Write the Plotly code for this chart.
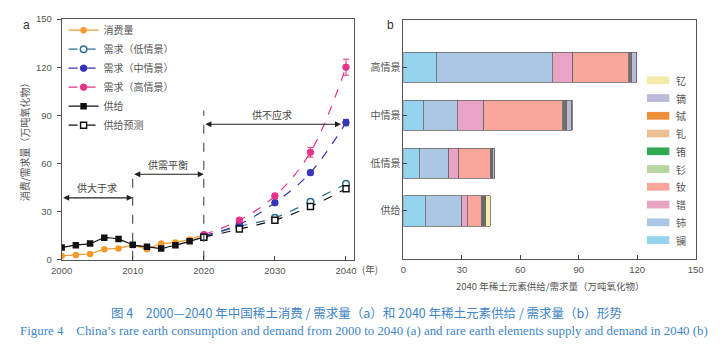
import plotly.graph_objects as go

# ---------------- Panel a data ----------------
hist_years = [2000, 2002, 2004, 2006, 2008, 2010, 2012, 2014, 2016, 2018, 2020]
consumption = [2.4, 3.0, 3.6, 6.6, 7.1, 9.1, 6.6, 10.1, 10.7, 12.7, 15.5]
supply = [7.7, 9.1, 10.1, 13.7, 12.9, 9.3, 8.1, 7.1, 9.1, 11.5, 14.1]

fc_years = [2020, 2025, 2030, 2035, 2040]
demand_low = [14.5, 20.8, 26.2, 36.2, 47.3]
demand_mid = [15.0, 22.1, 35.6, 54.3, 85.5]
demand_high = [15.7, 24.7, 39.8, 67.0, 120.0]
supply_fc = [14.1, 19.1, 24.7, 33.2, 44.3]
err_low = [0, 0.5, 1.0, 1.2, 1.5]
err_mid = [0, 0.8, 1.5, 1.5, 2.0]
err_high = [0, 1.0, 1.5, 3.0, 5.0]

period_start = [2000, 2010, 2020]
period_end = [2010, 2020, 2039.3]
period_level = [38.6, 53.3, 84.5]
period_label = ["供大于求", "供需平衡", "供不应求"]
divider_years = [2010, 2020]
divider_top = [53.3, 93]

# ---------------- Panel b data ----------------
categories = ["供给", "低情景", "中情景", "高情景"]
elements = ["镧", "铈", "镨", "钕", "钐", "铕", "钆", "铽", "镝", "钇"]
element_values = {
    "镧": [11.3, 8.2, 10.2, 16.8],
    "铈": [18.5, 15.0, 17.5, 59.5],
    "镨": [2.9, 5.3, 13.6, 10.5],
    "钕": [7.5, 16.2, 40.2, 28.7],
    "钐": [0.6, 0.4, 0.7, 0.6],
    "铕": [0.5, 0.2, 0.3, 0.2],
    "钆": [0.5, 0.4, 0.8, 0.6],
    "铽": [0.2, 0.2, 0.4, 0.3],
    "镝": [0.3, 0.8, 2.6, 2.3],
    "钇": [2.2, 0.1, 0.3, 0.2],
}
element_colors = {
    "镧": "#96d3ef", "铈": "#abc7e3", "镨": "#e8a3c5", "钕": "#fba69c",
    "钐": "#b5d6a0", "铕": "#33a853", "钆": "#ebc193", "铽": "#f08d38",
    "镝": "#bcbadb", "钇": "#f5eba9",
}

W, H = 728, 350
def px(x):
    return x / W
def py(y):
    return 1 - y / H

FONT = "Liberation Sans, Noto Sans CJK SC, sans-serif"
CJK = "Noto Sans CJK SC, sans-serif"
TXT = "#555555"

fig = go.Figure()

# ---- panel a traces ----
fig.add_trace(go.Scatter(x=hist_years, y=consumption, name="消费量", mode="lines+markers",
                         line=dict(color="#f39a2c", width=1.2),
                         marker=dict(symbol="circle", size=6.5, color="#f39a2c"),
                         xaxis="x", yaxis="y", legend="legend"))
fig.add_trace(go.Scatter(x=fc_years, y=demand_low, name="需求（低情景）", mode="lines+markers",
                         line=dict(color="#2c7090", width=1.2, dash="dash", shape="spline"),
                         marker=dict(symbol="circle", size=6.5, color="white",
                                     line=dict(color="#2c7090", width=1.5)),
                         error_y=dict(type="data", array=err_low, color="#2c7090", width=3, thickness=1),
                         xaxis="x", yaxis="y", legend="legend"))
fig.add_trace(go.Scatter(x=fc_years, y=demand_mid, name="需求（中情景）", mode="lines+markers",
                         line=dict(color="#3535b5", width=1.2, dash="dash", shape="spline"),
                         marker=dict(symbol="circle", size=6.5, color="#3535b5",
                                     line=dict(color="#3535b5", width=1)),
                         error_y=dict(type="data", array=err_mid, color="#3535b5", width=3, thickness=1),
                         xaxis="x", yaxis="y", legend="legend"))
fig.add_trace(go.Scatter(x=fc_years, y=demand_high, name="需求（高情景）", mode="lines+markers",
                         line=dict(color="#e6338a", width=1.2, dash="dash", shape="spline"),
                         marker=dict(symbol="circle", size=6.5, color="#e6338a",
                                     line=dict(color="#e6338a", width=1)),
                         error_y=dict(type="data", array=err_high, color="#e6338a", width=3, thickness=1),
                         xaxis="x", yaxis="y", legend="legend"))
fig.add_trace(go.Scatter(x=hist_years, y=supply, name="供给", mode="lines+markers",
                         line=dict(color="#111111", width=1.2, shape="spline", smoothing=0.6),
                         marker=dict(symbol="square", size=6.5, color="#111111"),
                         xaxis="x", yaxis="y", legend="legend"))
fig.add_trace(go.Scatter(x=fc_years, y=supply_fc, name="供给预测", mode="lines+markers",
                         line=dict(color="#111111", width=1.2, dash="dash", shape="spline"),
                         marker=dict(symbol="square", size=6, color="white",
                                     line=dict(color="#111111", width=1.5)),
                         xaxis="x", yaxis="y", legend="legend"))

# ---- panel b traces ----
for el in elements:
    fig.add_trace(go.Bar(y=categories, x=element_values[el], name=el, orientation="h",
                         marker=dict(color=element_colors[el], line=dict(color="#666666", width=0.8)),
                         xaxis="x2", yaxis="y2", showlegend=False))

annotations = []
shapes = []

# dividers and period arrows
for yr, top in zip(divider_years, divider_top):
    shapes.append(dict(type="line", xref="x", yref="y", x0=yr, x1=yr, y0=0, y1=top,
                       line=dict(color="#333333", width=1, dash="dash")))
for s, e, lv, lb in zip(period_start, period_end, period_level, period_label):
    annotations.append(dict(xref="x", yref="y", axref="x", ayref="y", x=e, y=lv, ax=s, ay=lv,
                            text="", showarrow=True, arrowhead=2, startarrowhead=2,
                            arrowside="end+start", arrowsize=1.1, arrowwidth=1.1,
                            arrowcolor="#222222"))
    annotations.append(dict(xref="x", yref="y", x=(s + e) / 2, y=lv, yshift=10, text=lb,
                            showarrow=False, xanchor="center", yanchor="middle",
                            font=dict(size=10, color="#444444", family=CJK)))

def paper_text(x, y, text, size, color=TXT, family=CJK, xanchor="center"):
    return dict(xref="paper", yref="paper", x=px(x), y=py(y), text=text, showarrow=False,
                xanchor=xanchor, yanchor="middle", font=dict(size=size, color=color, family=family))

annotations += [
    paper_text(16, 20, "a", 12, "#333333", FONT),
    paper_text(390, 20, "b", 12, "#333333", FONT),
    paper_text(369, 272, "(年)", 9.5),
    paper_text(553, 289, "2040 年稀土元素供给/需求量（万吨氧化物）", 9.5),
    paper_text(365, 316, "图 4　2000—2040 年中国稀土消费 / 需求量（a）和 2040 年稀土元素供给 / 需求量（b）形势",
               12.5, "#3f86c6"),
    paper_text(362, 336,
               "Figure 4　China’s rare earth consumption and demand from 2000 to 2040 (a) and rare earth elements supply and demand in 2040 (b)",
               12.9, "#3f86c6", "Liberation Serif, serif"),
]

# manual legend for panel b
leg_top, leg_step = 76.7, 18.33
for i, el in enumerate(reversed(elements)):
    yc = leg_top + i * leg_step
    shapes.append(dict(type="rect", xref="paper", yref="paper", x0=px(653), x1=px(676),
                       y0=py(yc - 4), y1=py(yc + 4), fillcolor=element_colors[el], line=dict(width=0)))
    annotations.append(paper_text(681, yc, el, 10, xanchor="left"))

axis_common = dict(showline=True, linecolor="#555555", linewidth=1, mirror=True,
                   showgrid=False, zeroline=False,
                   tickfont=dict(size=9.5, color=TXT, family=FONT), ticklen=4, tickcolor="#444444")

fig.update_layout(
    width=W, height=H, margin=dict(l=0, r=0, t=0, b=0),
    paper_bgcolor="white", plot_bgcolor="white",
    barmode="stack", bargap=0.37,
    font=dict(family=FONT, color=TXT),
    xaxis=dict(domain=[px(52), px(352)], range=[2000, 2041.1], tickvals=[2000, 2010, 2020, 2030, 2040],
               ticks="inside", anchor="y", ticklabelstandoff=2, **axis_common),
    yaxis=dict(domain=[py(262), py(13.5)], range=[0, 150], tickvals=[0, 30, 60, 90, 120, 150],
               ticks="outside", anchor="x", ticklabelstandoff=3,
               title=dict(text="消费/需求量（万吨氧化物）", font=dict(size=10, color=TXT, family=CJK), standoff=4),
               **axis_common),
    xaxis2=dict(domain=[px(403), px(703)], range=[0, 150], tickvals=[0, 30, 60, 90, 120, 150],
                ticks="inside", anchor="y2", ticklabelstandoff=2, **axis_common),
    yaxis2=dict(domain=[py(261), py(14)], range=[-1, 4], ticks="inside", anchor="x2",
                **{**axis_common, "tickfont": dict(size=10, color=TXT, family=CJK)}),
    legend=dict(x=px(54), y=py(10), xanchor="left", yanchor="top", bgcolor="rgba(0,0,0,0)",
                traceorder="normal",
                font=dict(size=10, color=TXT, family=CJK), tracegroupgap=0, itemwidth=30),
    annotations=annotations, shapes=shapes,
)

fig.write_html("out.html")
